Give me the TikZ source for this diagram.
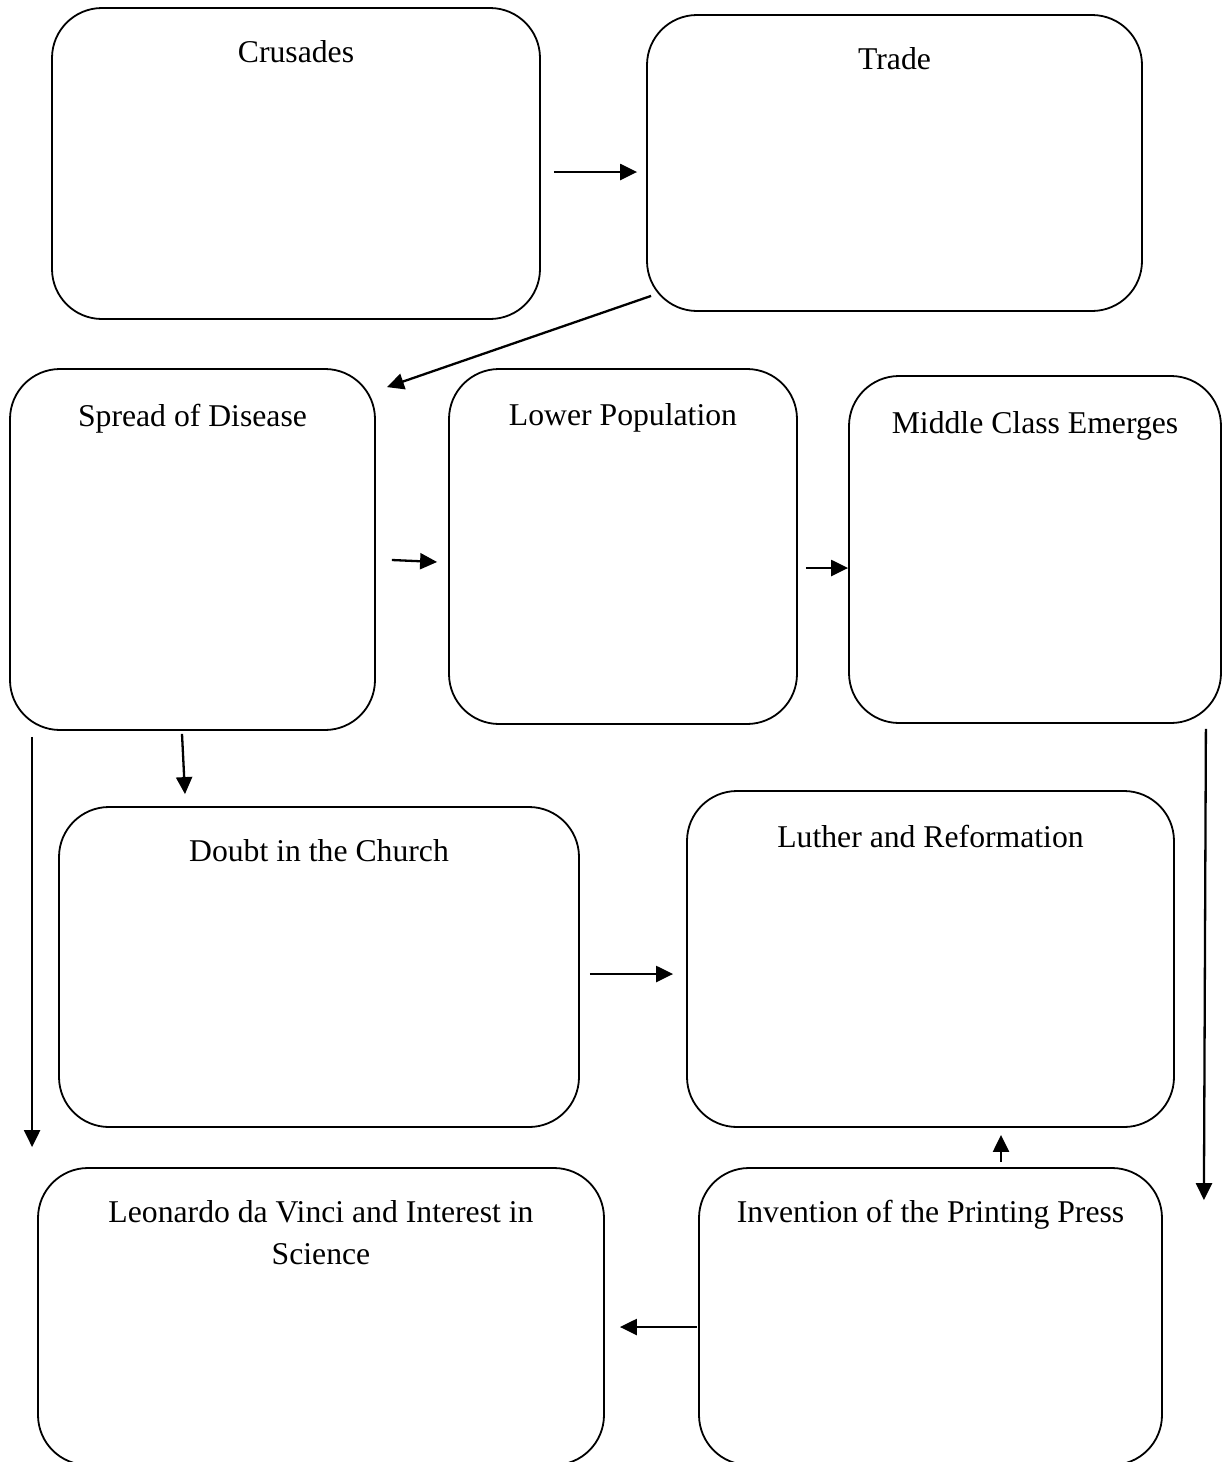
\documentclass[tikz,border=0pt]{standalone}
\usepackage{fontspec}
\setmainfont{Liberation Serif}
\usetikzlibrary{arrows.meta}
\begin{document}
\begin{tikzpicture}[x=1pt,y=-1pt,
  box/.style={draw, line width=1.8pt, rounded corners=50pt, inner sep=0pt},
  lbl/.style={anchor=base, inner sep=0pt, font=\fontsize{31.7}{42}\selectfont, align=center},
  arr/.style={line width=2.3pt, -{Triangle[length=17pt,width=16pt]}}]
\useasboundingbox (0,0) rectangle (1228,1462);
\clip (0,0) rectangle (1228,1462);
% boxes
\node[box, minimum width=488pt, minimum height=311pt] (crus) at (296,163.5) {};
\node[box, minimum width=495pt, minimum height=296pt] (trade) at (894.5,163) {};
\node[box, minimum width=365pt, minimum height=361pt] (spread) at (192.5,549.5) {};
\node[box, minimum width=348pt, minimum height=355pt] (lower) at (623,546.5) {};
\node[box, minimum width=372pt, minimum height=347pt] (middle) at (1035,549.5) {};
\node[box, minimum width=520pt, minimum height=320pt] (doubt) at (319,967) {};
\node[box, minimum width=487pt, minimum height=336pt] (luther) at (930.5,959) {};
\node[box, minimum width=566pt, minimum height=297pt] (leo) at (321,1316.5) {};
\node[box, minimum width=463pt, minimum height=297pt] (print) at (930.5,1316.5) {};
% labels
\node[lbl] (crusT) at ([shift={(0,55)}]crus.north) {Crusades};
\node[lbl] (tradeT) at ([shift={(0,55)}]trade.north) {Trade};
\node[lbl] (spreadT) at ([shift={(0,58)}]spread.north) {Spread of Disease};
\node[lbl] (lowerT) at ([shift={(0,57)}]lower.north) {Lower Population};
\node[lbl] (middleT) at ([shift={(0,58)}]middle.north) {Middle Class Emerges};
\node[lbl] (doubtT) at ([shift={(0,55)}]doubt.north) {Doubt in the Church};
\node[lbl] (lutherT) at ([shift={(0,57)}]luther.north) {Luther and Reformation};
\node[lbl] (leoT) at ([shift={(0,97)}]leo.north) {Leonardo da Vinci and Interest in\\Science};
\node[lbl] (printT) at ([shift={(0,55)}]print.north) {Invention of the Printing Press};
% connectors
\draw[arr] ([shift={(13,8.5)}]crus.east) -- ([shift={(-9,9)}]trade.west);
\draw[arr] ([shift={(5,-16)}]trade.south west) -- ([shift={(11,19)}]spread.north east);
\draw[arr] ([shift={(16,10.5)}]spread.east) -- ([shift={(-11,15.5)}]lower.west);
\draw[arr] ([shift={(8,21.5)}]lower.east) -- ([shift={(0,18.5)}]middle.west);
\draw[arr] ([shift={(-10.5,3)}]spread.south) -- ([shift={(-134,-12)}]doubt.north);
\draw[arr] ([shift={(23,6)}]spread.south west) -- ([shift={(-5,-20)}]leo.north west);
\draw[arr] ([shift={(10,7)}]doubt.east) -- ([shift={(-13,15)}]luther.west);
\draw[arr] ([shift={(-16,5)}]middle.south east) -- ([shift={(41,33)}]print.north east);
\draw[arr] ([shift={(70.5,-5)}]print.north) -- ([shift={(70.5,7)}]luther.south);
\draw[arr] ([shift={(-1,10.5)}]print.west) -- ([shift={(15,10.5)}]leo.east);
\end{tikzpicture}
\end{document}
